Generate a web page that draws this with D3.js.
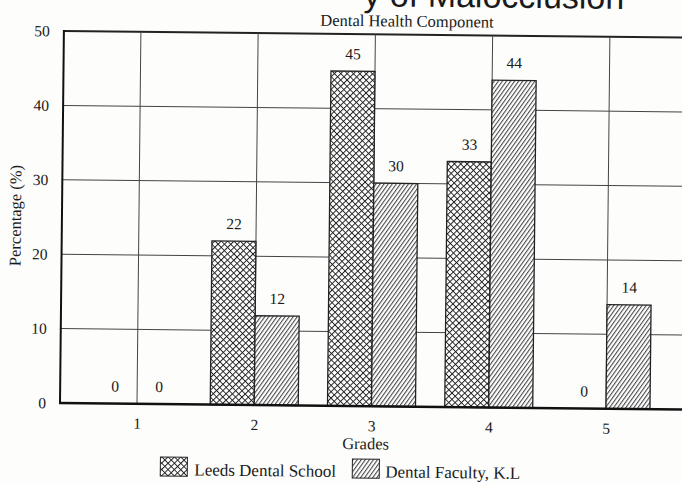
<!DOCTYPE html>
<html>
<head>
<meta charset="utf-8">
<script src="https://cdn.jsdelivr.net/npm/d3@7"></script>
<style>
  html, body { margin: 0; padding: 0; background: #fdfdfb; }
  svg { display: block; }
  text { font-family: "Liberation Serif", "DejaVu Serif", serif; fill: #1a1a1a; }
</style>
</head>
<body>
<div id="chart"></div>
<script>
// data
const grades = ["1", "2", "3", "4", "5"];
const leeds = [0, 22, 45, 33, 0];
const kl = [0, 12, 30, 44, 14];
const seriesNames = ["Leeds Dental School", "Dental Faculty, K.L"];
const yTicks = [0, 10, 20, 30, 40, 50];

const width = 682, height = 483;
const plotLeft = 60, plotTop = 31, plotBottom = 403, plotRight = 700;
const barW = 44;

const svg = d3.select("#chart").append("svg")
    .attr("width", width)
    .attr("height", height);

// hatch patterns
const defs = svg.append("defs");
defs.append("pattern")
    .attr("id", "cross")
    .attr("patternUnits", "userSpaceOnUse")
    .attr("width", 4.5).attr("height", 4.5)
    .attr("patternTransform", "rotate(45)")
    .call(p => {
        p.append("rect").attr("width", 4.5).attr("height", 4.5).attr("fill", "#fff");
        p.append("path").attr("d", "M0,0.5H4.5M0.5,0V4.5")
            .attr("stroke", "#222").attr("stroke-width", 1);
    });
defs.append("pattern")
    .attr("id", "diag")
    .attr("patternUnits", "userSpaceOnUse")
    .attr("width", 3.3).attr("height", 10)
    .attr("patternTransform", "rotate(35)")
    .call(p => {
        p.append("rect").attr("width", 3.3).attr("height", 10).attr("fill", "#fff");
        p.append("path").attr("d", "M0.6,0V10")
            .attr("stroke", "#222").attr("stroke-width", 0.9);
    });

// scanned page is slightly tilted
const g = svg.append("g").attr("transform", `rotate(0.6, ${plotLeft}, ${plotBottom})`);

// cropped heading at the very top (only its lower edge is on the page)
g.append("text")
    .attr("x", 620).attr("y", 3)
    .attr("text-anchor", "end")
    .style("font-family", "Liberation Sans, Arial, sans-serif")
    .style("font-size", "34px")
    .text("y of Malocclusion");

g.append("text")
    .attr("x", 403).attr("y", 23)
    .attr("text-anchor", "middle")
    .style("font-size", "16.5px")
    .text("Dental Health Component");

const x = d3.scalePoint().domain(grades).range([137, 606]);
const y = d3.scaleLinear().domain([0, 50]).range([plotBottom, plotTop]);

// grid
g.append("g").selectAll("line")
    .data(yTicks.filter(d => d > 0))
    .join("line")
    .attr("x1", plotLeft).attr("x2", plotRight)
    .attr("y1", d => y(d)).attr("y2", d => y(d))
    .attr("stroke", d => d === 50 ? "#222" : "#444")
    .attr("stroke-width", d => d === 50 ? 2 : 1);

g.append("g").selectAll("line")
    .data(grades)
    .join("line")
    .attr("x1", d => x(d)).attr("x2", d => x(d))
    .attr("y1", plotTop).attr("y2", plotBottom)
    .attr("stroke", "#444")
    .attr("stroke-width", 1);

// bars
const rows = grades.map((gr, i) => ({ grade: gr, leeds: leeds[i], kl: kl[i] }));

const bars = g.append("g");
bars.selectAll("rect.leeds")
    .data(rows.filter(d => d.leeds > 0))
    .join("rect")
    .attr("class", "leeds")
    .attr("x", d => x(d.grade) - barW)
    .attr("y", d => y(d.leeds))
    .attr("width", barW)
    .attr("height", d => y(0) - y(d.leeds))
    .attr("fill", "url(#cross)")
    .attr("stroke", "#222").attr("stroke-width", 1.3);

bars.selectAll("rect.kl")
    .data(rows.filter(d => d.kl > 0))
    .join("rect")
    .attr("class", "kl")
    .attr("x", d => x(d.grade))
    .attr("y", d => y(d.kl))
    .attr("width", barW)
    .attr("height", d => y(0) - y(d.kl))
    .attr("fill", "url(#diag)")
    .attr("stroke", "#222").attr("stroke-width", 1.3);

// value labels
const labels = g.append("g").style("font-size", "15.5px").attr("text-anchor", "middle");
labels.selectAll("text.l")
    .data(rows)
    .join("text")
    .attr("class", "l")
    .attr("x", d => x(d.grade) - barW / 2)
    .attr("y", d => y(d.leeds) - 12)
    .text(d => d.leeds);
labels.selectAll("text.k")
    .data(rows)
    .join("text")
    .attr("class", "k")
    .attr("x", d => x(d.grade) + barW / 2)
    .attr("y", d => y(d.kl) - 12)
    .text(d => d.kl);

// axes
const yAxis = g.append("g")
    .attr("transform", `translate(${plotLeft},0)`)
    .call(d3.axisLeft(y).tickValues(yTicks).tickSize(0).tickPadding(14));
yAxis.select(".domain").remove();
yAxis.selectAll("text").style("font-size", "15.5px").style("font-family", "Liberation Serif, serif").attr("fill", "#1a1a1a");

const xAxis = g.append("g")
    .attr("transform", `translate(0,${plotBottom})`)
    .call(d3.axisBottom(x).tickSize(0).tickPadding(14));
xAxis.select(".domain").remove();
xAxis.selectAll("text").style("font-size", "15.5px").style("font-family", "Liberation Serif, serif").attr("fill", "#1a1a1a");

g.append("line")
    .attr("x1", plotLeft).attr("x2", plotLeft)
    .attr("y1", plotTop - 1).attr("y2", plotBottom + 1)
    .attr("stroke", "#111").attr("stroke-width", 2);
g.append("line")
    .attr("x1", plotLeft - 1).attr("x2", plotRight)
    .attr("y1", plotBottom).attr("y2", plotBottom)
    .attr("stroke", "#111").attr("stroke-width", 2.5);

// axis titles
g.append("text")
    .attr("transform", `translate(19,216) rotate(-90)`)
    .attr("text-anchor", "middle")
    .style("font-size", "16.5px")
    .text("Percentage (%)");
g.append("text")
    .attr("x", 366).attr("y", 446)
    .attr("text-anchor", "middle")
    .style("font-size", "16.5px")
    .text("Grades");

// legend
const legend = g.append("g").style("font-size", "17px");
const legendItems = [
    { name: seriesNames[0], fill: "url(#cross)", x: 161, tx: 195 },
    { name: seriesNames[1], fill: "url(#diag)", x: 353, tx: 386 }
];
legend.selectAll("rect")
    .data(legendItems)
    .join("rect")
    .attr("x", d => d.x).attr("y", 456)
    .attr("width", 27).attr("height", 19)
    .attr("fill", d => d.fill)
    .attr("stroke", "#222").attr("stroke-width", 1);
legend.selectAll("text")
    .data(legendItems)
    .join("text")
    .attr("x", d => d.tx).attr("y", 474)
    .text(d => d.name);
</script>
</body>
</html>
